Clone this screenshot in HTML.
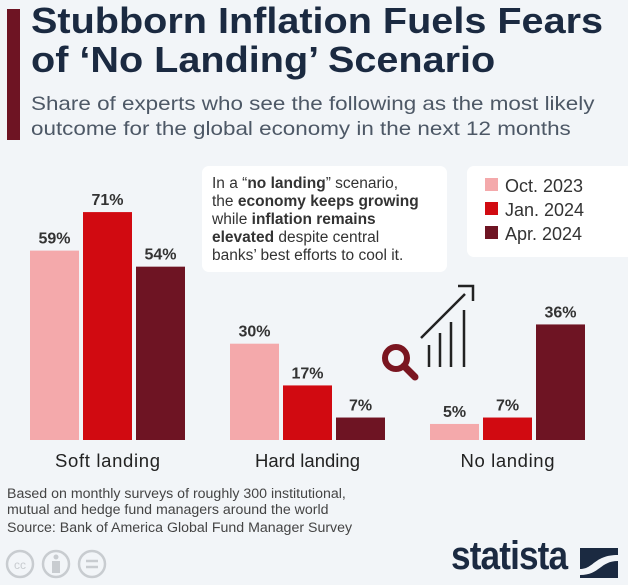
<!DOCTYPE html>
<html><head><meta charset="utf-8"><style>
body{margin:0;width:640px;height:585px;background:#fff;overflow:hidden;font-family:"Liberation Sans",sans-serif}
#bg{position:absolute;left:0;top:0;width:628px;height:585px;background:#f2f5f8}
.t{position:absolute;color:#1b2a41;white-space:nowrap}
</style></head><body>
<div id="bg"></div>
<div style="position:absolute;left:7px;top:9px;width:13px;height:131px;background:#6e1423"></div>
<div class="t" style="left:31px;top:1px;font-size:36px;font-weight:bold;line-height:39px;transform:scaleX(1.1);transform-origin:left">Stubborn Inflation Fuels Fears<br>of ‘No Landing’ Scenario</div>
<div class="t" style="left:31px;top:92px;font-size:19.5px;line-height:25px;color:#4d5866;transform:scaleX(1.15);transform-origin:left">Share of experts who see the following as the most likely<br>outcome for the global economy in the next 12 months</div>
<div class="t" style="left:202px;top:166px;width:225px;height:88px;padding:9px 10px;background:#fff;border-radius:7px;font-size:15.5px;line-height:18px;color:#333">In a “<b>no landing</b>” scenario,<br>the <b>economy keeps growing</b><br>while <b>inflation remains</b><br><b>elevated</b> despite central<br>banks’ best efforts to cool it.</div>
<div style="position:absolute;left:467px;top:166px;width:161px;height:91px;background:#fff;border-radius:7px 0 0 7px"></div>
<svg id="chart" width="640" height="585" style="position:absolute;left:0;top:0">
<g stroke="#222" stroke-width="2.5" fill="none">
<line x1="421" y1="338" x2="465" y2="294"/><polyline points="458,286 473,286 473,301"/>
<line x1="429" y1="345" x2="429" y2="367"/><line x1="440" y1="333" x2="440" y2="367"/><line x1="451" y1="322" x2="451" y2="367"/><line x1="464" y1="310" x2="464" y2="367"/>
</g>
<g><circle cx="396" cy="358" r="11" stroke="#7a1520" stroke-width="6" fill="none"/><line x1="404" y1="366" x2="415" y2="377" stroke="#7a1520" stroke-width="7" stroke-linecap="round"/></g>
</svg>
<div class="t" style="left:7px;top:486px;font-size:13.5px;line-height:16px;color:#444;transform:scaleX(1.05);transform-origin:left">Based on monthly surveys of roughly 300 institutional,<br>mutual and hedge fund managers around the world</div>
<div class="t" style="left:7px;top:520px;font-size:13.5px;color:#444;transform:scaleX(1.05);transform-origin:left">Source: Bank of America Global Fund Manager Survey</div>
<svg width="120" height="34" style="position:absolute;left:5px;top:548px">
<g fill="none" stroke="#c8ccd0" stroke-width="2.5"><circle cx="15" cy="16" r="13"/><circle cx="51" cy="16" r="13"/><circle cx="87" cy="16" r="13"/><line x1="81" y1="13" x2="93" y2="13"/><line x1="81" y1="19" x2="93" y2="19"/></g>
<text x="15" y="21" text-anchor="middle" font-size="12" fill="#c8ccd0" font-family="Liberation Sans">cc</text>
<circle cx="51" cy="9" r="2.5" fill="#c8ccd0"/><rect x="47" y="13" width="8" height="12" fill="#c8ccd0"/>
</svg>
<div class="t" style="left:451px;top:534px;font-size:40px;font-weight:bold;letter-spacing:-1px;color:#1b2a41;transform:scaleX(0.88);transform-origin:left">statista</div>
<svg width="48" height="34" style="position:absolute;left:572px;top:548px"><rect x="8" width="38" height="30" fill="#1b2a41"/><path d="M8 21 C22 21 22 7 46 7 L46 13 C28 13 28 27 8 27Z" fill="#f2f5f8"/></svg>
<script>
const categories=["Soft landing","Hard landing","No landing"];
const series=["Oct. 2023","Jan. 2024","Apr. 2024"];
const oct2023=[59,30,5];
const jan2024=[71,17,7];
const apr2024=[54,7,36];
const colors=["#f4a9ab","#d10a11","#6e1423"];
const vals=[oct2023,jan2024,apr2024];
const NS="http://www.w3.org/2000/svg";
const svg=document.getElementById("chart");
const baseY=440,scale=3.21,groupX0=30,groupW=200,barW=49,barStep=53;
const y=v=>baseY-v*scale;
const x=(c,s)=>groupX0+c*groupW+s*barStep;
categories.forEach((cat,c)=>{
  series.forEach((s,i)=>{
    const v=vals[i][c];
    const r=document.createElementNS(NS,"rect");
    
    
    r.setAttribute("x",x(c,i));r.setAttribute("y",y(v));r.setAttribute("width",barW);r.setAttribute("height",v*scale);r.setAttribute("fill",colors[i]);
    svg.appendChild(r);
    const t=document.createElementNS(NS,"text");
    
    
    t.setAttribute("x",x(c,i)+barW/2);t.setAttribute("y",y(v)-7);t.setAttribute("text-anchor","middle");
    t.setAttribute("font-size","16");t.setAttribute("font-weight","bold");t.setAttribute("fill","#333");t.setAttribute("font-family","Liberation Sans");
    t.textContent=v+"%";svg.appendChild(t);
  });
  const l=document.createElementNS(NS,"text");
  
  
  l.setAttribute("x",x(c,1)+barW/2);l.setAttribute("y",467);l.setAttribute("text-anchor","middle");
  l.setAttribute("font-size","18.5");l.setAttribute("fill","#222");l.setAttribute("font-family","Liberation Sans");
  l.setAttribute("textLength",cat==="No landing"?"94":"105");
  l.textContent=cat;svg.appendChild(l);
});
series.forEach((s,i)=>{
  const r=document.createElementNS(NS,"rect");
  
  
  r.setAttribute("x",485);r.setAttribute("y",178+i*24);r.setAttribute("width",13);r.setAttribute("height",13);r.setAttribute("fill",colors[i]);
  svg.appendChild(r);
  const t=document.createElementNS(NS,"text");
  
  
  t.setAttribute("x",505);t.setAttribute("y",192+i*24);t.setAttribute("font-size","18");t.setAttribute("fill","#333");t.setAttribute("font-family","Liberation Sans");
  t.textContent=s;svg.appendChild(t);
});
</script>
</body></html>
